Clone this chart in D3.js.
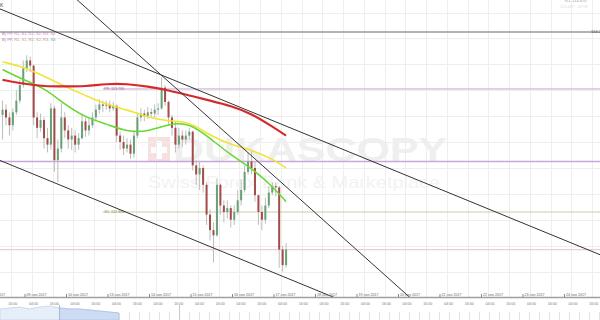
<!DOCTYPE html>
<html>
<head>
<meta charset="utf-8">
<script src="https://cdn.jsdelivr.net/npm/d3@7"></script>
<style>
  html, body { margin: 0; padding: 0; background: #fff; }
  svg { display: block; font-family: "Liberation Sans", Arial, sans-serif; }
</style>
</head>
<body>
<svg id="chart" width="600" height="320"></svg>
<script>
"use strict"

// candele a 2 ore (open = close precedente)
const firstOpen = 113.58;
const closes = [113.62,113.56,113.50,113.60,113.69,113.81,113.94,114.00,113.96,113.56,
  113.48,113.54,113.40,113.35,113.63,113.23,113.32,113.56,113.46,113.39,
  113.42,113.35,113.40,113.53,113.46,113.50,113.56,113.62,113.66,113.65,
  113.66,113.63,113.65,113.42,113.37,113.32,113.35,113.28,113.42,113.56,
  113.59,113.57,113.60,113.59,113.62,113.63,113.79,113.68,113.56,113.48,
  113.35,113.42,113.39,113.42,113.45,113.19,113.12,113.17,113.04,112.81,
  112.69,112.65,113.04,112.88,112.83,112.86,112.77,112.83,112.92,113.00,
  113.14,113.22,113.17,112.96,112.83,112.77,112.88,112.98,113.03,113.02,
  112.54,112.42,112.54];
const highs = [113.69,113.66,113.60,113.63,113.77,113.85,114.00,114.04,114.03,113.97,
  113.60,113.59,113.56,113.48,113.67,113.65,113.39,113.67,113.60,113.50,
  113.48,113.46,113.44,113.59,113.56,113.56,113.60,113.66,113.70,113.69,
  113.69,113.69,113.68,113.66,113.45,113.42,113.40,113.39,113.46,113.60,
  113.63,113.62,113.64,113.63,113.66,113.67,113.87,113.81,113.69,113.58,
  113.53,113.48,113.46,113.46,113.48,113.46,113.23,113.22,113.19,113.06,
  112.85,112.75,113.09,113.05,112.92,112.92,112.88,112.88,113.00,113.08,
  113.19,113.29,113.31,113.22,112.96,112.88,112.94,113.03,113.06,113.06,
  113.03,112.57,112.59];
const lows = [113.39,113.50,113.42,113.46,113.58,113.67,113.79,113.91,113.91,113.50,
  113.40,113.45,113.32,113.29,113.31,113.14,113.06,113.29,113.40,113.32,
  113.31,113.29,113.31,113.39,113.41,113.42,113.48,113.53,113.59,113.60,
  113.62,113.60,113.61,113.37,113.31,113.27,113.29,113.24,113.25,113.40,
  113.53,113.53,113.55,113.56,113.56,113.58,113.62,113.65,113.50,113.42,
  113.29,113.32,113.33,113.35,113.39,113.15,113.04,113.00,112.98,112.73,
  112.61,112.44,112.64,112.81,112.75,112.78,112.71,112.73,112.81,112.88,
  112.98,113.12,113.12,112.91,112.73,112.69,112.74,112.86,112.96,112.95,
  112.40,112.37,112.40];

// medie mobili lette a candele scelte
const maCandles = [0,6,12,18,24,30,36,42,48,54,60,66,72,78,82];
const maRed    = [113.85,113.82,113.80,113.80,113.80,113.82,113.82,113.80,113.77,113.73,113.69,113.65,113.59,113.49,113.42];
const maYellow = [113.99,113.95,113.88,113.80,113.73,113.66,113.62,113.56,113.53,113.53,113.42,113.35,113.31,113.24,113.17];
const maGreen  = [113.93,113.85,113.79,113.66,113.56,113.51,113.45,113.45,113.51,113.52,113.40,113.27,113.17,113.03,112.91];

// etichette asse tempo
const dayLabels = ["08 ноя 2017","09 ноя 2017","10 ноя 2017","13 ноя 2017","14 ноя 2017","15 ноя 2017",
  "16 ноя 2017","17 ноя 2017","18 ноя 2017","19 ноя 2017","20 ноя 2017","21 ноя 2017",
  "22 ноя 2017","23 ноя 2017","24 ноя 2017"];
const hourLabels = ["04:00","16:00"];

// livelli orizzontali
const levelPrices = [114.22, 113.78, 113.22, 112.83, 112.54];
const levelNames  = ["114.220", "PP, 113.780", "", "S1, 112.830", ""];
const priceGrid   = [114.37,114.17,113.97,113.77,113.57,113.37,113.17,112.97,112.77,112.57,112.37];

// trendline: [slot A, prezzo A, slot B, prezzo B]
const trendLines = [
  [0.5, 114.39, 173.3, 112.50],
  [22.0, 114.47, 118.3, 112.17],
  [0.5, 113.22, 96.4, 112.17]
];

// navigatore in basso
const navValues = [113.8,114.1,114.4,113.8,114.4,114.7,114.1,113.8,113.8,113.5,113.2,112.9,112.6];

const legendRows = [
  [["B) ", "#9a7aa0"], ["PP, R1, S1, R2, S2, R3, S3", "#c884c0"]],
  [["B) ", "#9a7aa0"], ["PP, ", "#a07ac8"], ["R1, ", "#d47aa8"], ["S1, ", "#c8a070"], ["R2, ", "#d47aa8"],
   ["S2, ", "#b0a860"], ["R3, ", "#d47aa8"], ["S3", "#50a8a8"]]
];

const W = 600, H = 320, plotBottom = 297;
const svg = d3.select("#chart");

const x = d3.scaleLinear().domain([0, 173.5]).range([0.8, 600.8]);
const y = d3.scaleLinear().domain([112.1736, 114.467]).range([plotBottom, 0]);
const daySlot = i => -5 + 12 * i;

svg.append("defs").append("clipPath").attr("id", "plot")
  .append("rect").attr("x", 0).attr("y", 0).attr("width", W).attr("height", plotBottom);

/**
 * @description logo e scritta in filigrana
 */
function drawWatermark() {
  const g = svg.append("g").attr("id", "watermark");
  g.append("rect").attr("x", 148).attr("y", 137).attr("width", 22).attr("height", 24)
    .attr("fill", "#f8e0e0");
  g.append("path").attr("d", "M156,141h6v6h5v6h-5v6h-6v-6h-5v-6h5z").attr("fill", "#fff");
  g.append("text").attr("x", 173).attr("y", 161)
    .attr("font-size", 33).attr("font-weight", "bold").attr("fill", "#efefef")
    .attr("textLength", 274).attr("lengthAdjust", "spacingAndGlyphs")
    .text("DUKASCOPY");
  g.append("text").attr("x", 148).attr("y", 188)
    .attr("font-size", 17).attr("fill", "#f2f2f2")
    .attr("textLength", 292).attr("lengthAdjust", "spacingAndGlyphs")
    .text("Swiss Forex Bank & Marketplace");
}

function drawGrid() {
  const g = svg.append("g").attr("id", "grid").attr("stroke", "#eeeeee").attr("stroke-width", 1);
  const vSlots = [];
  dayLabels.forEach((d, i) => { vSlots.push(daySlot(i) + 2, daySlot(i) + 8); });
  g.selectAll("line.v").data(vSlots).join("line").attr("class", "v")
    .attr("x1", d => Math.round(x(d)) + 0.5).attr("x2", d => Math.round(x(d)) + 0.5)
    .attr("y1", 0).attr("y2", plotBottom);
  g.selectAll("line.h").data(priceGrid).join("line").attr("class", "h")
    .attr("x1", 0).attr("x2", W)
    .attr("y1", d => Math.round(y(d)) + 0.5).attr("y2", d => Math.round(y(d)) + 0.5);
}

function drawLevels() {
  const colors = ["#9a9a9a", "#c9a3cc", "#c7a6d9", "#cfcaa8", "#ecccd6"];
  const widths = [1.5, 1, 1.6, 1, 1.2];
  const startSlot = [null, 29.5, null, 29.5, null];
  const g = svg.append("g").attr("id", "levels");
  levelPrices.forEach((p, i) => {
    g.append("line")
      .attr("x1", startSlot[i] === null ? 0 : x(startSlot[i])).attr("x2", W)
      .attr("y1", y(p)).attr("y2", y(p))
      .attr("stroke", colors[i]).attr("stroke-width", widths[i]);
  });
  g.append("text").attr("x", 591).attr("y", y(levelPrices[0]) + 1.5)
    .attr("font-size", 4.2).attr("fill", "#555").text(levelNames[0]);
  g.append("text").attr("x", x(startSlot[1]) + 1.5).attr("y", y(levelPrices[1]) + 1.4)
    .attr("font-size", 3.8).attr("fill", "#a068a8").text(levelNames[1]);
  g.append("text").attr("x", x(startSlot[3]) + 1.5).attr("y", y(levelPrices[3]) + 1.4)
    .attr("font-size", 3.8).attr("fill", "#98904c").text(levelNames[3]);
}

function drawCandles() {
  const data = closes.map((c, i) => ({
    slot: i + 0.5, open: i === 0 ? firstOpen : closes[i - 1], close: c, high: highs[i], low: lows[i]
  }));
  const g = svg.append("g").attr("id", "candles").attr("clip-path", "url(#plot)");
  g.selectAll("line").data(data).join("line")
    .attr("x1", d => x(d.slot)).attr("x2", d => x(d.slot))
    .attr("y1", d => y(d.high)).attr("y2", d => y(d.low))
    .attr("stroke", "#bcbcbc").attr("stroke-width", 1);
  g.selectAll("rect").data(data).join("rect")
    .attr("x", d => x(d.slot) - 1).attr("width", 2)
    .attr("y", d => y(Math.max(d.open, d.close)))
    .attr("height", d => Math.max(1, Math.abs(y(d.open) - y(d.close))))
    .attr("fill", d => d.close >= d.open ? "#67a176" : "#a34b48");
}

function drawAverages() {
  const g = svg.append("g").attr("id", "averages").attr("clip-path", "url(#plot)").attr("fill", "none");
  const line = d3.line().x(d => x(d[0] + 0.5)).y(d => y(d[1])).curve(d3.curveBasis);
  [[maYellow, "#f0e43a", 1.6], [maGreen, "#66d830", 1.5], [maRed, "#d42a2c", 2.1]].forEach(s => {
    g.append("path").attr("d", line(maCandles.map((k, i) => [k, s[0][i]])))
      .attr("stroke", s[1]).attr("stroke-width", s[2]);
  });
}

function drawTrendLines() {
  const g = svg.append("g").attr("id", "trend").attr("clip-path", "url(#plot)");
  trendLines.forEach(t => {
    const x1 = x(t[0]), y1 = y(t[1]), x2 = x(t[2]), y2 = y(t[3]);
    const m = (y2 - y1) / (x2 - x1);
    g.append("line")
      .attr("x1", -5).attr("y1", y1 + m * (-5 - x1))
      .attr("x2", W + 5).attr("y2", y1 + m * (W + 5 - x1))
      .attr("stroke", "#333").attr("stroke-width", 1);
  });
}

function drawLegend() {
  const g = svg.append("g").attr("id", "legend").attr("font-size", 4);
  legendRows.forEach((row, r) => {
    const t = g.append("text").attr("x", 2).attr("y", 34.5 + r * 6.5);
    row.forEach(p => t.append("tspan").attr("fill", p[1]).text(p[0]));
  });
  g.append("text").attr("x", 0).attr("y", 7).attr("font-size", 5).attr("fill", "#444").text("K");
  g.append("text").attr("x", 565).attr("y", 1.5).attr("font-size", 4).attr("fill", "#999").text("R1, 114.470");
  g.append("text").attr("x", 560).attr("y", 7.5).attr("font-size", 4).attr("fill", "#dddddd").text("114.467 · 09:58");
}

function drawAxis() {
  const g = svg.append("g").attr("id", "axis");
  g.append("line").attr("x1", 0).attr("x2", W).attr("y1", plotBottom + 0.5).attr("y2", plotBottom + 0.5)
    .attr("stroke", "#a0a0a0").attr("stroke-width", 1.5);
  const days = g.selectAll("g.day").data(dayLabels).join("g").attr("class", "day")
    .attr("transform", (d, i) => `translate(${x(daySlot(i))},0)`);
  days.append("line").attr("y1", plotBottom - 3).attr("y2", plotBottom).attr("stroke", "#888");
  days.append("text").attr("x", 1.5).attr("y", plotBottom - 1.5)
    .attr("font-size", 3.6).attr("fill", "#666").text(d => d);
  const hours = [];
  dayLabels.forEach((d, i) => {
    hours.push({ slot: daySlot(i) + 2, t: hourLabels[0] }, { slot: daySlot(i) + 8, t: hourLabels[1] });
  });
  g.selectAll("text.hour").data(hours).join("text").attr("class", "hour")
    .attr("x", d => x(d.slot) + 1.5).attr("y", 305)
    .attr("text-anchor", "middle").attr("font-size", 3.6).attr("fill", "#777").text(d => d.t);
}

function drawNavigator() {
  const g = svg.append("g").attr("id", "nav");
  const nx = d3.scaleLinear().domain([0, navValues.length - 1]).range([0, 119]);
  const ny = d3.scaleLinear().domain([110.5, 115]).range([320, 305]);
  const area = d3.area().x((d, i) => nx(i)).y0(320).y1(d => ny(d));
  g.append("path").attr("d", area(navValues)).attr("fill", "#e6eefa").attr("stroke", "#c2d4ee").attr("stroke-width", 0.8);
  const sel = navValues.map((v, i) => [i, v]).filter(d => d[0] >= 6);
  g.append("path")
    .attr("d", d3.area().x(d => nx(d[0])).y0(320).y1(d => ny(d[1]))(sel))
    .attr("fill", "#cddcf3").attr("stroke", "#a9c1e6").attr("stroke-width", 0.8);
  g.append("line").attr("x1", nx(6)).attr("x2", nx(6)).attr("y1", 305).attr("y2", 320)
    .attr("stroke", "#a8b8d0");
  const tx = d3.scaleLinear().domain([0, 48]).range([119, 599]);
  g.selectAll("line.tick").data(d3.range(1, 49)).join("line").attr("class", "tick")
    .attr("x1", d => Math.round(tx(d)) + 0.5).attr("x2", d => Math.round(tx(d)) + 0.5)
    .attr("y1", d => d === 6 ? 305 : 312).attr("y2", 320)
    .attr("stroke", d => d === 6 ? "#c8c8c8" : "#e2e2e2");
}

drawWatermark();
drawGrid();
drawLevels();
drawCandles();
drawAverages();
drawTrendLines();
drawLegend();
drawAxis();
drawNavigator();
</script>
</body>
</html>
